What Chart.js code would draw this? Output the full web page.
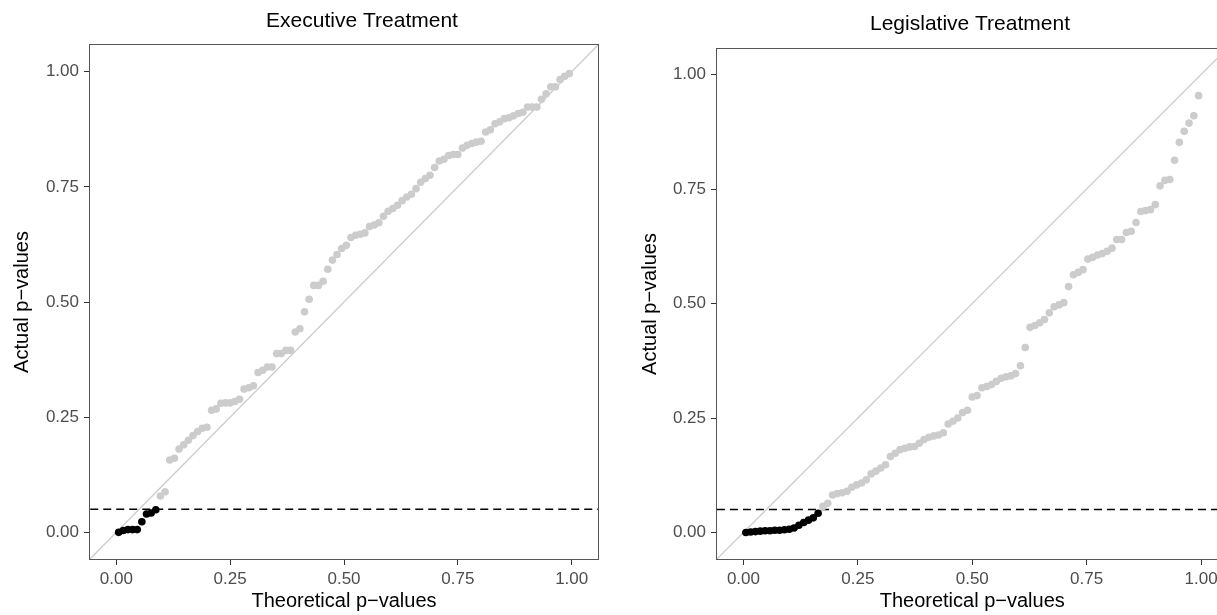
<!DOCTYPE html>
<html>
<head>
<meta charset="utf-8">
<script src="https://cdn.jsdelivr.net/npm/chart.js@4"></script>
<style>
html,body{margin:0;padding:0;background:#fff;overflow:hidden;width:1217px;height:615px;}
canvas{position:absolute;top:0;}
</style>
</head>
<body>
<canvas id="c1" width="610" height="615" style="left:0"></canvas>
<canvas id="c2" width="620" height="615" style="left:620px"></canvas>
<script>
// ---------- data ----------
const titles = ["Executive Treatment", "Legislative Treatment"];
const xTitle = "Theoretical p\u2212values";
const yTitle = "Actual p\u2212values";
const tickValues = [0, 0.25, 0.5, 0.75, 1];
const threshold = 0.05;

const execTheoretical = [0.0051,0.0153,0.0255,0.0357,0.0459,0.0561,0.0663,0.0765,0.0867,0.0969,
0.1071,0.1173,0.1276,0.1378,0.1480,0.1582,0.1684,0.1786,0.1888,0.1990,
0.2092,0.2194,0.2296,0.2398,0.2500,0.2602,0.2704,0.2806,0.2908,0.3010,
0.3112,0.3214,0.3316,0.3418,0.3520,0.3622,0.3724,0.3827,0.3929,0.4031,
0.4133,0.4235,0.4337,0.4439,0.4541,0.4643,0.4745,0.4847,0.4949,0.5051,
0.5153,0.5255,0.5357,0.5459,0.5561,0.5663,0.5765,0.5867,0.5969,0.6071,
0.6173,0.6276,0.6378,0.6480,0.6582,0.6684,0.6786,0.6888,0.6990,0.7092,
0.7194,0.7296,0.7398,0.7500,0.7602,0.7704,0.7806,0.7908,0.8010,0.8112,
0.8214,0.8316,0.8418,0.8520,0.8622,0.8724,0.8827,0.8929,0.9031,0.9133,
0.9235,0.9337,0.9439,0.9541,0.9643,0.9745,0.9847,0.9949];
const execActual = [0.000,0.004,0.006,0.006,0.006,0.023,0.040,0.042,0.049,
0.079,0.088,0.157,0.161,0.181,0.190,0.200,0.210,0.219,0.226,0.228,
0.265,0.268,0.280,0.281,0.281,0.284,0.289,0.311,0.314,0.318,0.347,0.352,0.359,0.359,0.388,0.388,0.395,0.395,0.435,0.442,0.479,0.506,0.536,0.536,0.545,0.571,0.591,0.603,0.616,0.623,0.640,0.645,0.647,0.650,0.664,0.667,0.672,
0.686,0.697,
0.703,0.710,0.720,0.728,0.734,0.746,0.760,0.768,0.775,0.792,0.806,0.810,0.818,0.820,0.820,0.834,0.840,0.844,0.847,0.849,0.869,0.874,0.887,0.891,0.898,0.900,0.904,0.909,0.912,0.923,0.923,0.923,0.940,0.952,0.967,0.967,0.983,0.990,0.996];

const legTheoretical = [0.0053,0.0158,0.0263,0.0368,0.0474,0.0579,0.0684,0.0789,0.0895,0.1000,
0.1105,0.1211,0.1316,0.1421,0.1526,0.1632,0.1737,0.1842,0.1947,0.2053,
0.2158,0.2263,0.2368,0.2474,0.2579,0.2684,0.2789,0.2895,0.3000,0.3105,
0.3211,0.3316,0.3421,0.3526,0.3632,0.3737,0.3842,0.3947,0.4053,0.4158,
0.4263,0.4368,0.4474,0.4579,0.4684,0.4789,0.4895,0.5000,0.5105,0.5211,
0.5316,0.5421,0.5526,0.5632,0.5737,0.5842,0.5947,0.6053,0.6158,0.6263,
0.6368,0.6474,0.6579,0.6684,0.6789,0.6895,0.7000,0.7105,0.7211,0.7316,
0.7421,0.7526,0.7632,0.7737,0.7842,0.7947,0.8053,0.8158,0.8263,0.8368,
0.8474,0.8579,0.8684,0.8789,0.8895,0.9000,0.9105,0.9211,0.9316,0.9421,
0.9526,0.9632,0.9737,0.9842,0.9947];
const legActual = [0.000,0.001,0.002,0.003,0.004,0.004,0.005,0.005,0.006,0.007,0.010,0.016,0.022,0.027,0.032,0.042,
0.057,0.064,0.082,0.085,0.087,0.090,0.099,0.104,0.108,0.115,0.128,0.134,0.141,0.148,0.166,0.173,0.181,0.184,0.187,0.188,
0.195,0.203,0.208,0.211,0.213,0.218,0.237,0.243,0.250,0.262,0.267,0.296,0.299,0.316,0.319,0.323,0.330,0.337,0.340,0.342,
0.347,0.364,0.404,0.448,0.452,0.458,0.465,0.480,0.493,0.497,0.502,0.537,0.563,0.568,0.574,0.597,0.601,0.606,0.609,0.614,
0.621,0.640,0.640,0.655,0.658,0.677,0.701,0.703,0.705,0.716,0.757,0.769,0.771,0.813,0.852,0.876,0.894,0.910,0.954];

// ---------- drawing ----------
const FONT = "'Liberation Sans', Arial, Helvetica, sans-serif";
const GREY = '#cccccc';

function makeChart(canvasId, title, xs, ys, lay) {
  const pts = xs.map((x, i) => ({x: x, y: ys[i]}));
  const frame = {
    id: 'frame',
    afterDatasetsDraw(chart) {
      const a = chart.chartArea, c = chart.ctx;
      c.save();
      c.strokeStyle = '#555555';
      c.lineWidth = 1;
      c.strokeRect(Math.round(a.left) + 0.5, Math.round(a.top) + 0.5,
                   Math.round(a.right - a.left) - 1, Math.round(a.bottom - a.top) - 1);
      c.restore();
    },
    afterDraw(chart) {
      const c = chart.ctx;
      c.save();
      c.fillStyle = '#000';
      c.font = '21px ' + FONT;
      c.textAlign = 'center';
      c.textBaseline = 'middle';
      c.fillText(title, lay.titleX, lay.titleY);
      c.restore();
    }
  };
  return new Chart(document.getElementById(canvasId), {
    type: 'scatter',
    data: {
      datasets: [
        {
          type: 'line',
          data: [{x: -0.2, y: -0.2}, {x: 1.2, y: 1.2}],
          borderColor: GREY, borderWidth: 1.3, pointRadius: 0, fill: false, order: 3
        },
        {
          type: 'line',
          data: [{x: -0.2, y: threshold}, {x: 1.2, y: threshold}],
          borderColor: '#000', borderWidth: 1.5, borderDash: [8, 5], pointRadius: 0, fill: false, order: 2
        },
        {
          data: pts,
          pointRadius: 3.8,
          pointBorderWidth: 0,
          pointBackgroundColor: ctx => (ctx.raw && ctx.raw.y < threshold) ? '#000000' : GREY,
          order: 1
        }
      ]
    },
    options: {
      responsive: false,
      animation: false,
      events: [],
      layout: {padding: {top: lay.top, right: lay.right, left: 0, bottom: 0}},
      plugins: {legend: {display: false}, tooltip: {enabled: false}, title: {display: false}},
      scales: {
        x: {
          type: 'linear', min: -0.06, max: 1.06,
          afterBuildTicks: s => { s.ticks = tickValues.map(v => ({value: v})); },
          afterFit: s => { s.height = 55; },
          grid: {drawOnChartArea: false, drawTicks: true, tickLength: 5, tickColor: '#333333', tickWidth: 1},
          border: {display: false},
          ticks: {color: '#4d4d4d', font: {family: FONT, size: 17}, padding: 4, maxRotation: 0,
                  callback: v => Number(v).toFixed(2)},
          title: {display: true, text: xTitle, color: '#000', font: {family: FONT, size: 20},
                  padding: {top: 0, bottom: 2}}
        },
        y: {
          type: 'linear', min: -0.06, max: lay.ymax,
          afterBuildTicks: s => { s.ticks = tickValues.map(v => ({value: v})); },
          afterFit: s => { s.width = lay.yWidth; },
          grid: {drawOnChartArea: false, drawTicks: true, tickLength: 5, tickColor: '#333333', tickWidth: 1},
          border: {display: false},
          ticks: {color: '#4d4d4d', font: {family: FONT, size: 17}, padding: 5,
                  callback: v => Number(v).toFixed(2)},
          title: {display: true, text: yTitle, color: '#000', font: {family: FONT, size: 20},
                  padding: {top: lay.yTitlePad, bottom: 0}}
        }
      }
    },
    plugins: [frame]
  });
}

makeChart('c1', titles[0], execTheoretical, execActual,
  {top: 44, right: 11, yWidth: 89, ymax: 1.06, yTitlePad: 10, titleX: 362, titleY: 21});
makeChart('c2', titles[1], legTheoretical, legActual,
  {top: 48, right: 11.5, yWidth: 96, ymax: 1.058, yTitlePad: 18, titleX: 350, titleY: 24});
</script>
</body>
</html>
